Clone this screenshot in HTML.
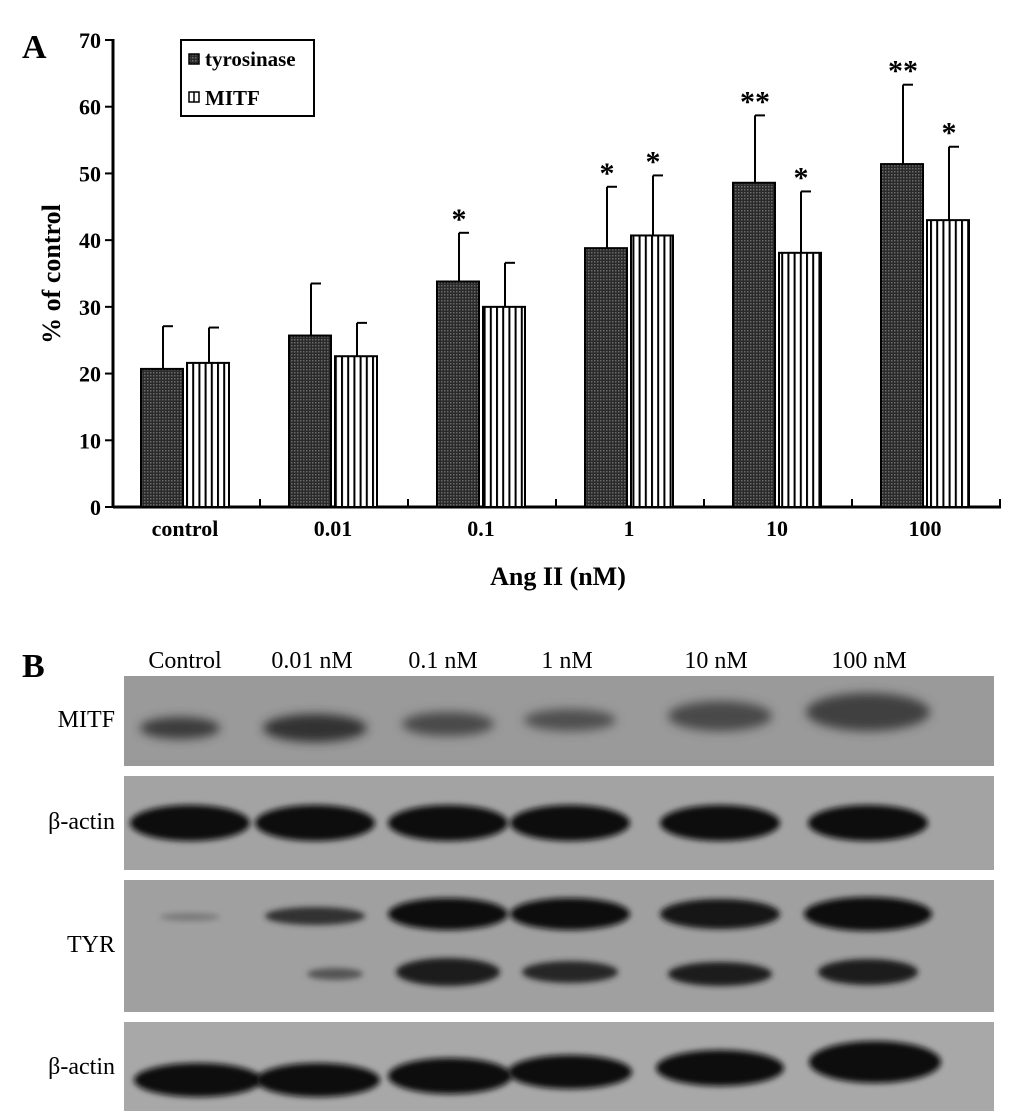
<!DOCTYPE html>
<html><head><meta charset="utf-8"><style>
body{margin:0;background:#fff;width:1033px;height:1111px;overflow:hidden}
text{font-family:"Liberation Serif",serif}
</style></head><body>
<svg id="fig" width="1033" height="1111" viewBox="0 0 1033 1111">
<defs>
<pattern id="dots" width="3" height="3" patternUnits="userSpaceOnUse"><rect width="3" height="3" fill="#2a2a2a"/><rect width="1.5" height="1.5" fill="#6a6a6a"/></pattern>
<pattern id="stripes" width="6.2" height="10" patternUnits="userSpaceOnUse"><rect width="6.2" height="10" fill="#fff"/><rect width="2" height="10" fill="#000"/></pattern>
<filter id="blur" x="-20%" y="-50%" width="140%" height="200%"><feGaussianBlur stdDeviation="5"/></filter>
<filter id="blur2" x="-20%" y="-50%" width="140%" height="200%"><feGaussianBlur stdDeviation="3"/></filter>
</defs>
<text x="22" y="58" font-size="34" font-weight="bold">A</text>
<g id="chart"></g>
<text x="22" y="677" font-size="34" font-weight="bold">B</text>
<g id="blot"></g>
</svg>
<script>
const categories=["control","0.01","0.1","1","10","100"];
const tyrVals=[20.7,25.7,33.8,38.8,48.6,51.4];
const mitfVals=[21.6,22.6,30.0,40.7,38.1,43.0];
const tyrErr=[6.4,7.8,7.3,9.2,10.1,11.9];
const mitfErr=[5.3,5.0,6.6,9.0,9.2,11.0];
const tyrSig=["","","*","*","**","**"];
const mitfSig=["","","","*","*","*"];
const yTicks=[0,10,20,30,40,50,60,70];
const NS="http://www.w3.org/2000/svg";
const g=document.getElementById('chart');
function el(t,a,p){const e=document.createElementNS(NS,t);for(const k in a)e.setAttribute(k,a[k]);(p||g).appendChild(e);return e;}
const y0=507,yTop=40,x0=113,gw=148,firstX=141,bw=44;
const Y=v=>y0-(v/70)*(y0-yTop);
const GX=i=>firstX+i*gw;
let e;
e=el('line',{x1:x0,y1:yTop-1,x2:x0,y2:y0+1,stroke:'#000','stroke-width':3});


e=el('line',{x1:x0,y1:y0,x2:x0+6*gw,y2:y0,stroke:'#000','stroke-width':3});


yTicks.forEach(v=>{
 el('line',{x1:x0-8,y1:Y(v),x2:x0,y2:Y(v),stroke:'#000','stroke-width':2});
 e=el('text',{x:x0-12,y:Y(v)+8,'font-size':22,'font-weight':'bold','text-anchor':'end'});e.textContent=v;
 
 
});
categories.forEach((c,i)=>{
 const tx=x0+(i+1)*gw-1;
 el('line',{x1:tx,y1:y0,x2:tx,y2:y0-8,stroke:'#000','stroke-width':2});
 e=el('text',{x:GX(i)+bw,y:y0+29,'font-size':22,'font-weight':'bold','text-anchor':'middle'});e.textContent=c;
 
 
 [[tyrVals,tyrErr,tyrSig,'url(#dots)',0,'bar-tyrosinase'],[mitfVals,mitfErr,mitfSig,'url(#stripes)',bw+2,'bar-mitf']].forEach(([vals,errs,sig,fill,off,nm])=>{
  const x=GX(i)+off,v=vals[i],cx=x+bw/2;
  el('line',{x1:cx,y1:Y(v),x2:cx,y2:Y(v+errs[i]),stroke:'#000','stroke-width':2});
  el('line',{x1:cx,y1:Y(v+errs[i]),x2:cx+10,y2:Y(v+errs[i]),stroke:'#000','stroke-width':2});
  e=el('rect',{x:x,y:Y(v),width:bw-2,height:y0-Y(v),fill:fill,stroke:'#000','stroke-width':2});
  
  
  if(sig[i]){e=el('text',{x:cx,y:Y(v+errs[i])-4,'font-size':30,'font-weight':'bold','text-anchor':'middle'});e.textContent=sig[i];
  
  }
 });
});
e=el('text',{x:558,y:585,'font-size':26,'font-weight':'bold','text-anchor':'middle'});e.textContent='Ang II (nM)';


e=el('text',{x:0,y:0,'font-size':26,'font-weight':'bold','text-anchor':'middle',transform:'translate(60,274) rotate(-90)'});e.textContent='% of control';


const lg=el('g',{});


el('rect',{x:181,y:40,width:133,height:76,fill:'#fff',stroke:'#000','stroke-width':2},lg);
el('rect',{x:189,y:54,width:10,height:10,fill:'url(#dots)',stroke:'#000','stroke-width':1.5},lg);
e=el('text',{x:205,y:66,'font-size':21,'font-weight':'bold'},lg);e.textContent='tyrosinase';


el('rect',{x:189,y:92,width:10,height:10,fill:'#fff',stroke:'#000','stroke-width':1.5},lg);
el('line',{x1:194,y1:92,x2:194,y2:102,stroke:'#000','stroke-width':1.5},lg);
e=el('text',{x:205,y:105,'font-size':21,'font-weight':'bold'},lg);e.textContent='MITF';



const b=document.getElementById('blot');
const lanes=["Control","0.01 nM","0.1 nM","1 nM","10 nM","100 nM"];
const laneX=[185,312,443,567,716,869];
lanes.forEach((l,i)=>{e=el('text',{x:laneX[i],y:668,'font-size':24,'text-anchor':'middle'},b);e.textContent=l;
 
 });
const panels=[[676,766,'MITF',719,'#9a9a9a'],[776,870,'β-actin',821,'#a3a3a3'],[880,1012,'TYR',944,'#a0a0a0'],[1022,1111,'β-actin',1066,'#a8a8a8']];
panels.forEach(([t,bt,lab,ly,col])=>{
 e=el('rect',{x:124,y:t,width:870,height:bt-t,fill:col},b);
 
 
 e=el('text',{x:115,y:ly+8,'font-size':24,'text-anchor':'end'},b);e.textContent=lab;
 
 
});
function band(cx,cy,rx,ry,c,f){el('ellipse',{cx,cy,rx,ry,fill:c,filter:f||'url(#blur2)'},b);}
const cen=[190,315,448,570,720,868];
[[180,728,40,11,'#3a3a3a'],[315,728,52,14,'#333'],[448,724,46,12,'#4a4a4a'],[570,720,46,11,'#505050'],[720,716,52,15,'#4a4a4a'],[868,712,62,19,'#404040']].forEach(a=>band(...a,'url(#blur)'));
cen.forEach(c=>band(c,823,60,18,'#111'));
[[190,917,30,4,'#7a7a7a'],[315,916,50,9,'#333'],[448,914,60,16,'#111'],[570,914,60,16,'#111'],[720,914,60,15,'#141414'],[868,914,64,17,'#0d0d0d']].forEach(a=>band(...a));
[[335,974,28,6,'#555'],[448,972,52,14,'#1e1e1e'],[570,972,48,11,'#262626'],[720,974,52,12,'#1e1e1e'],[868,972,50,13,'#1e1e1e']].forEach(a=>band(...a));
[[198,1080,64,17],[318,1080,62,17],[450,1076,62,18],[570,1072,62,17],[720,1068,64,18],[875,1062,66,21]].forEach(a=>band(...a,'#0d0d0d'));
</script>
</body></html>
